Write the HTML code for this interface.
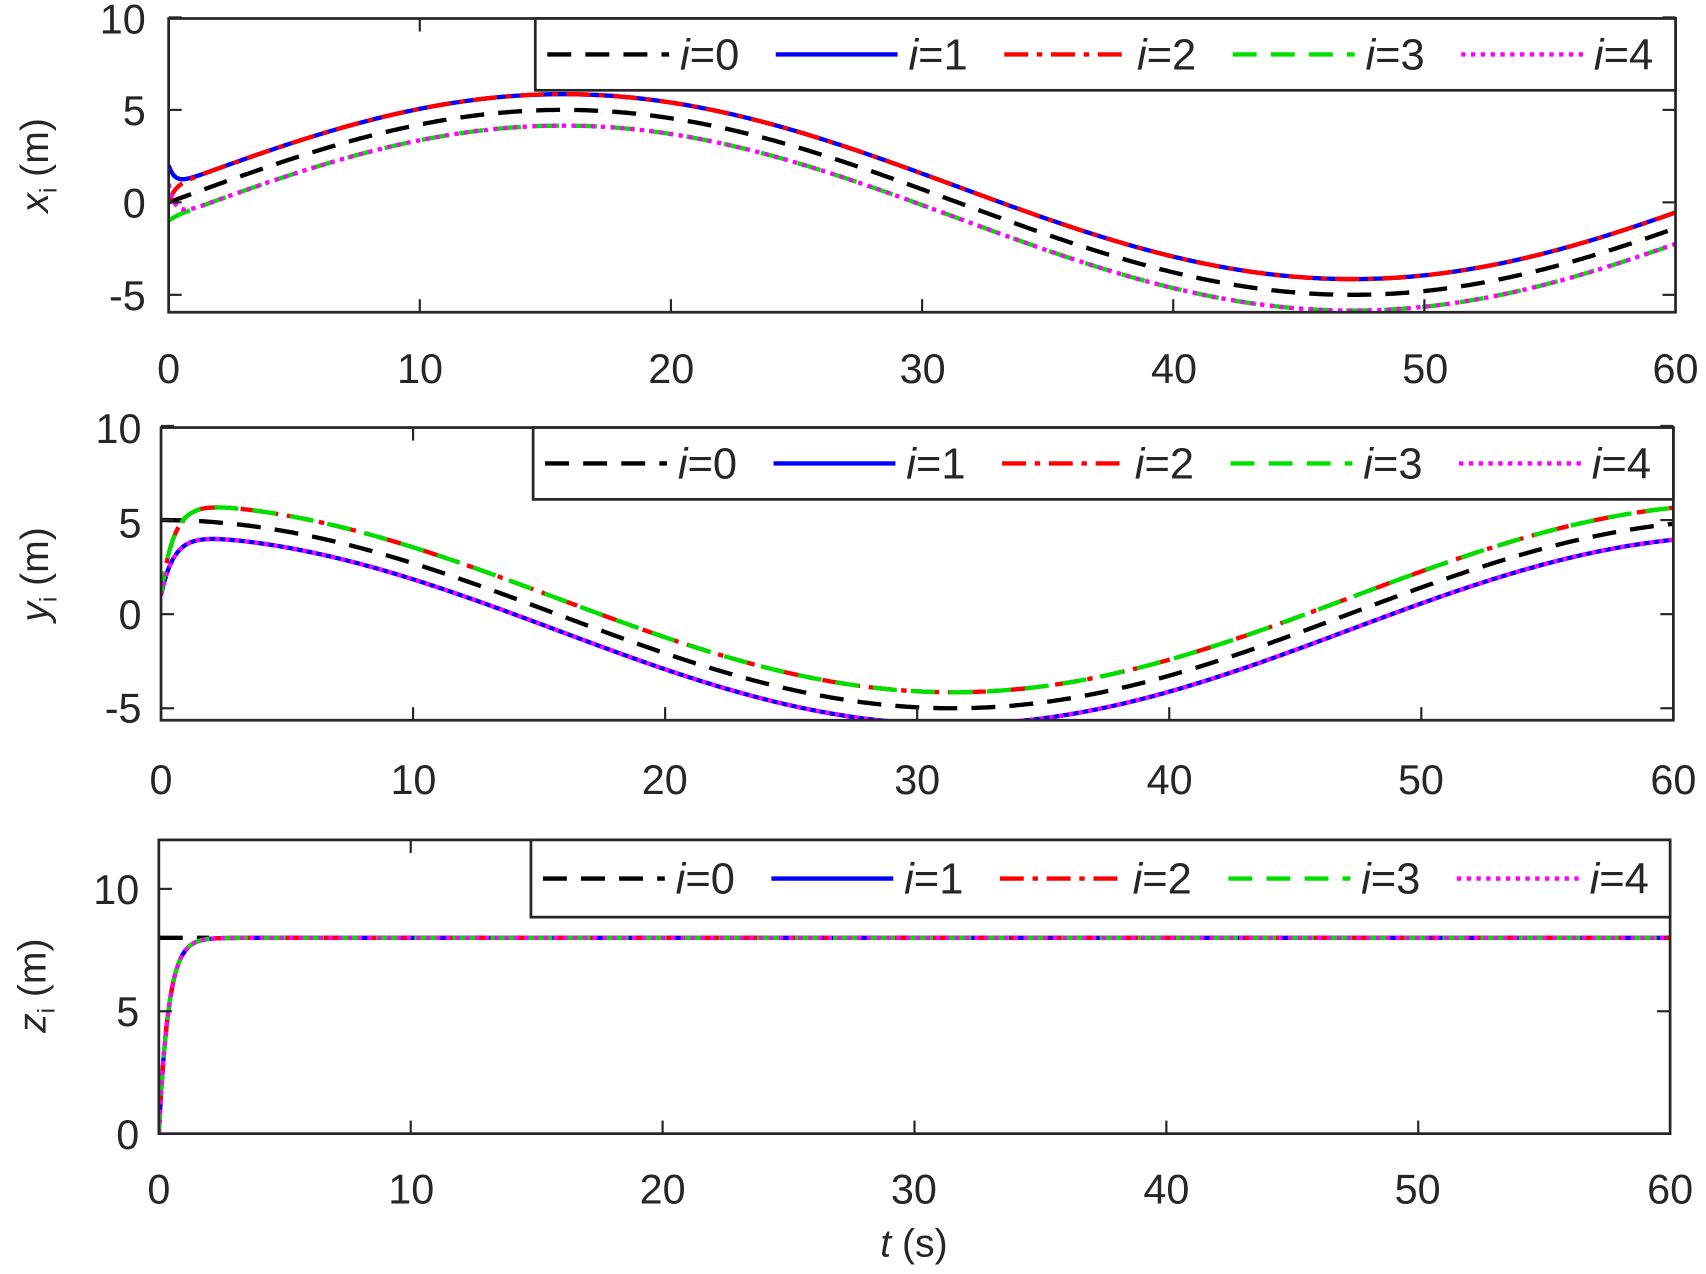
<!DOCTYPE html>
<html><head><meta charset="utf-8"><style>
html,body{margin:0;padding:0;background:#fff;}
svg{display:block;}
text{font-family:"Liberation Sans",Arial,sans-serif;fill:#262626;}
</style></head><body>
<svg id="s" width="1706" height="1274" viewBox="0 0 1568 1171" preserveAspectRatio="none" xmlns="http://www.w3.org/2000/svg">
<g id="plots"></g>
<g font-size="38" text-anchor="middle">
<text x="155" y="352">0</text><text x="386" y="352">10</text><text x="617" y="352">20</text><text x="848" y="352">30</text><text x="1079" y="352">40</text><text x="1310" y="352">50</text><text x="1540" y="352">60</text>
<text x="148" y="730">0</text><text x="380" y="730">10</text><text x="611" y="730">20</text><text x="843" y="730">30</text><text x="1075" y="730">40</text><text x="1306" y="730">50</text><text x="1538" y="730">60</text>
<text x="146" y="1106">0</text><text x="378" y="1106">10</text><text x="609" y="1106">20</text><text x="840" y="1106">30</text><text x="1072" y="1106">40</text><text x="1303" y="1106">50</text><text x="1535" y="1106">60</text>
</g>
<g font-size="38" text-anchor="end">
<text x="134" y="31">10</text><text x="134" y="115">5</text><text x="134" y="200">0</text><text x="134" y="285">-5</text>
<text x="130" y="407">10</text><text x="130" y="494">5</text><text x="130" y="578">0</text><text x="130" y="664">-5</text>
<text x="128" y="831">10</text><text x="128" y="943">5</text><text x="128" y="1056">0</text>
</g>
<g font-size="36">
<text transform="translate(44,152) rotate(-90)" text-anchor="middle"><tspan font-style="italic">x</tspan><tspan font-size="22" dy="8">i</tspan><tspan dy="-8"> (m)</tspan></text>
<text transform="translate(44,528) rotate(-90)" text-anchor="middle"><tspan font-style="italic">y</tspan><tspan font-size="22" dy="8">i</tspan><tspan dy="-8"> (m)</tspan></text>
<text transform="translate(42,906) rotate(-90)" text-anchor="middle"><tspan font-style="italic">z</tspan><tspan font-size="22" dy="8">i</tspan><tspan dy="-8"> (m)</tspan></text>
<text x="840" y="1155" text-anchor="middle"><tspan font-style="italic">t</tspan> (s)</text>
</g>
</svg>
<script>
const NS="http://www.w3.org/2000/svg";
const g=document.getElementById('plots');
function el(t,a,p){const e=document.createElementNS(NS,t);for(const k in a)e.setAttribute(k,a[k]);(p||g).appendChild(e);return e;}
const styles=[
 {c:'#000',d:'22 13'},
 {c:'#0000ff',d:''},
 {c:'#ff0000',d:'22 8 5 8'},
 {c:'#00e000',d:'22 13'},
 {c:'#ff00ff',d:'4 5'}];
const O=0.85;
const plots=[
 {L:155,R:1540,T:17,B:287,y0:186,k:17,ticks:[10,5,0,-5],leg:[492,17,1540,83],
  f:(i,t)=>{const b=5*Math.sin(0.1*t);const off=[0,O,O,-O,-O][i];const init=[0,2,0,-1,1][i];return b+off+(init-off)*Math.exp(-4*t);}},
 {L:148,R:1538,T:393,B:662,y0:564.5,k:17.3,ticks:[10,5,0,-5],leg:[490,393,1538,459],
  f:(i,t)=>{const b=5*Math.cos(0.1*t);const off=[0,-O,O,O,-O][i];if(i==0)return b;return b+off+(1-5-off)*Math.exp(-2*t);}},
 {L:146,R:1535,T:772,B:1042,y0:1042,k:22.5,ticks:[10,5,0],leg:[488,772,1535,843],
  f:(i,t)=>{if(i==0)return 8;return 8*(1-Math.exp(-2.6*t));}}];
plots.forEach(P=>{
 const sx=t=>P.L+(P.R-P.L)*t/60, sy=v=>P.y0-P.k*v;
 const cid='c'+P.T;
 const cp=el('clipPath',{id:cid});el('rect',{x:P.L,y:P.T,width:P.R-P.L,height:P.B-P.T},cp);
 const gg=el('g',{'clip-path':'url(#'+cid+')'});
 for(let i=0;i<5;i++){
  if(P===plots[2]&&i==0){el('line',{x1:sx(0),y1:sy(8),x2:sx(2),y2:sy(8),stroke:'#000','stroke-width':4,'stroke-dasharray':'22 13'},gg);continue;}
  let d='';for(let s=0;s<=1200;s++){const t=s*0.05;d+=(s?'L':'M')+sx(t).toFixed(1)+','+sy(P.f(i,t)).toFixed(1);}
  const a={d:d,fill:'none',stroke:styles[i].c,'stroke-width':4};if(styles[i].d)a['stroke-dasharray']=styles[i].d;
  el('path',a,gg);
 }
 el('rect',{x:P.L,y:P.T,width:P.R-P.L,height:P.B-P.T,fill:'none',stroke:'#262626','stroke-width':2.5});
 for(let t=10;t<60;t+=10){el('line',{x1:sx(t),y1:P.B,x2:sx(t),y2:P.B-12,stroke:'#262626','stroke-width':2});el('line',{x1:sx(t),y1:P.T,x2:sx(t),y2:P.T+12,stroke:'#262626','stroke-width':2});}
 P.ticks.forEach(v=>{const y=sy(v);el('line',{x1:P.L,y1:y,x2:P.L+12,y2:y,stroke:'#262626','stroke-width':2});el('line',{x1:P.R,y1:y,x2:P.R-12,y2:y,stroke:'#262626','stroke-width':2});});
 const [lx,ly,rx,by]=P.leg;
 el('rect',{x:lx,y:ly,width:rx-lx,height:by-ly,fill:'#fff',stroke:'#262626','stroke-width':2.5});
 const cy=(ly+by)/2;
 for(let i=0;i<5;i++){
  const x0=lx+11+i*210;
  const a={x1:x0,y1:cy,x2:x0+112,y2:cy,stroke:styles[i].c,'stroke-width':4};if(styles[i].d)a['stroke-dasharray']=styles[i].d;
  el('line',a);
  const tx=el('text',{x:x0+122,y:cy+14,'font-size':40});
  tx.innerHTML='<tspan font-style="italic">i</tspan>='+i;
 }
});
</script>
</body></html>
